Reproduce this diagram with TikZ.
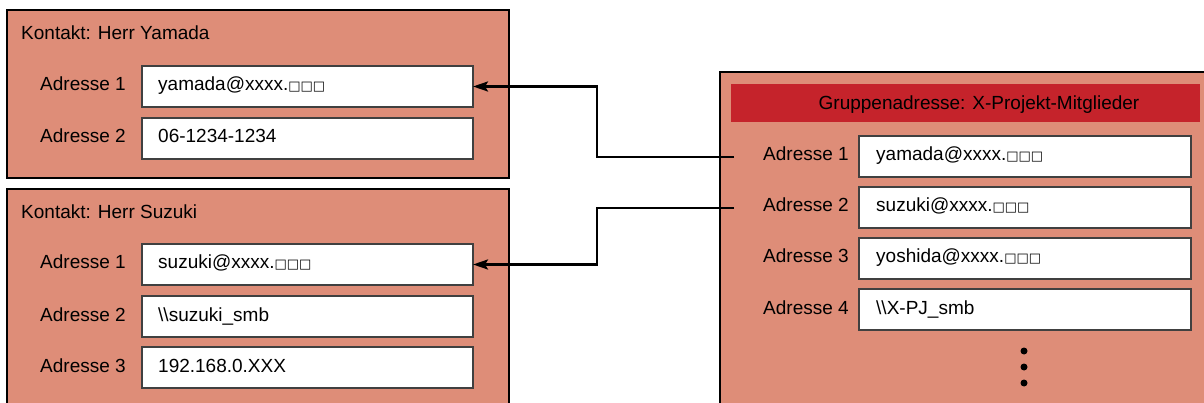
\documentclass[tikz,border=0pt]{standalone}
\usepackage{fontspec}
\setmainfont{Liberation Sans}
\newfontfamily\sqfont{DejaVu Sans}
\usetikzlibrary{arrows.meta}
\definecolor{boxfill}{RGB}{222,141,120}
\definecolor{headred}{RGB}{197,35,43}
\newcommand{\sqs}{{\sqfont\fontsize{13}{13}\selectfont □□□}}
\begin{document}
\begin{tikzpicture}[x=1pt,y=-1pt, font=\fontsize{19}{23}\selectfont,
  panel/.style={draw=black, line width=2.5pt, fill=boxfill, anchor=north west, inner sep=0pt, outer sep=0pt},
  field/.style={draw=black!75, line width=1.5pt, fill=white, anchor=north west, minimum height=41pt, inner sep=0pt, outer sep=0pt},
  lfield/.style={field, minimum width=331pt},
  rfield/.style={field, minimum width=332pt},
  lbl/.style={anchor=base west, inner sep=0pt},
  conn/.style={line width=2.5pt, draw=black},
  tip/.style={-{Stealth[length=15pt,width=10pt,inset=3pt]}},
  dot/.style={circle, fill=black, inner sep=0pt, minimum size=7pt}]
\clip (0,0) rectangle (1204,403);
% panels
\node[panel, minimum width=502pt, minimum height=168pt] (pY) at (7,10) {};
\node[panel, minimum width=502pt, minimum height=260pt] (pS) at (7,189) {};
\node[panel, minimum width=520pt, minimum height=360pt] (pG) at (720,72) {};
\node[fill=headred, anchor=north west, minimum width=469pt, minimum height=38pt, inner sep=0pt] (hd) at (731,84) {};
\node[lbl, anchor=base] (hdt) at (979,110) {Gruppenadresse: X-Projekt-Mitglieder};
% titles
\node[lbl] (tY) at (21,40) {Kontakt: Herr Yamada};
\node[lbl] (tS) at (21,219) {Kontakt: Herr Suzuki};
% Yamada fields
\node[lfield] (fy1) at (142,66) {};
\node[lfield] (fy2) at (142,118) {};
\node[lbl] (ly1) at (40,91) {Adresse 1};
\node[lbl] (ly2) at (40,143) {Adresse 2};
\node[lbl] (vy1) at (158,91) {yamada@xxxx.\sqs};
\node[lbl] (vy2) at (158,143) {06-1234-1234};
% Suzuki fields
\node[lfield] (fs1) at (142,244) {};
\node[lfield] (fs2) at (142,296) {};
\node[lfield] (fs3) at (142,347) {};
\node[lbl] (ls1) at (40,269) {Adresse 1};
\node[lbl] (ls2) at (40,321) {Adresse 2};
\node[lbl] (ls3) at (40,372) {Adresse 3};
\node[lbl] (vs1) at (158,269) {suzuki@xxxx.\sqs};
\node[lbl] (vs2) at (158,321) {\textbackslash\textbackslash suzuki\_smb};
\node[lbl] (vs3) at (158,372) {192.168.0.XXX};
% group fields
\node[rfield] (fg1) at (859,136) {};
\node[rfield] (fg2) at (859,187) {};
\node[rfield] (fg3) at (859,238) {};
\node[rfield] (fg4) at (859,289) {};
\node[lbl] (lg1) at (763,161) {Adresse 1};
\node[lbl] (lg2) at (763,212) {Adresse 2};
\node[lbl] (lg3) at (763,263) {Adresse 3};
\node[lbl] (lg4) at (763,314) {Adresse 4};
\node[lbl] (vg1) at (876,161) {yamada@xxxx.\sqs};
\node[lbl] (vg2) at (876,212) {suzuki@xxxx.\sqs};
\node[lbl] (vg3) at (876,263) {yoshida@xxxx.\sqs};
\node[lbl] (vg4) at (876,314) {\textbackslash\textbackslash X-PJ\_smb};
% dots
\node[dot] (d1) at (1024,351) {};
\node[dot] (d2) at (1024,367) {};
\node[dot] (d3) at (1024,383) {};
% connectors
\coordinate (s1) at (734,157);
\coordinate (k1) at (597,157);
\coordinate (s2) at (734,208);
\coordinate (k2) at (597,208);
\draw[conn, tip] (s1) -- (k1) |- (fy1.east);
\draw[conn, tip] (s2) -- (k2) |- (fs1.east);
\end{tikzpicture}
\end{document}
